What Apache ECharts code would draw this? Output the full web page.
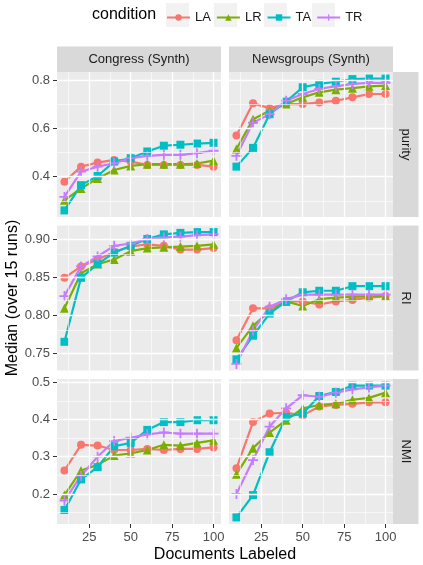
<!DOCTYPE html>
<html>
<head>
<meta charset="utf-8">
<script src="https://cdn.jsdelivr.net/npm/echarts@6/dist/echarts.min.js"></script>
<style>
  html, body { margin: 0; padding: 0; background: #fff; }
  #chart { width: 423px; height: 565px; }
</style>
</head>
<body>
<div id="chart"></div>
<script>
// documents labeled (x)
const docs = [10, 20, 30, 40, 50, 60, 70, 80, 90, 100]
const conditions = ['LA', 'LR', 'TA', 'TR']
const columns = ['Congress (Synth)', 'Newsgroups (Synth)']
const rows = ['purity', 'RI', 'NMI']

// each array: one list per condition, in order LA, LR, TA, TR
const congressPurity = [
  [0.379, 0.442, 0.459, 0.470, 0.463, 0.449, 0.449, 0.449, 0.449, 0.442],
  [0.302, 0.351, 0.393, 0.428, 0.445, 0.452, 0.452, 0.452, 0.455, 0.467],
  [0.260, 0.365, 0.403, 0.463, 0.477, 0.505, 0.529, 0.533, 0.538, 0.541],
  [0.316, 0.421, 0.442, 0.456, 0.477, 0.487, 0.491, 0.491, 0.498, 0.508]
]
const newsPurity = [
  [0.571, 0.705, 0.685, 0.702, 0.702, 0.709, 0.716, 0.730, 0.744, 0.744],
  [0.515, 0.639, 0.674, 0.702, 0.730, 0.751, 0.762, 0.768, 0.776, 0.779],
  [0.442, 0.520, 0.660, 0.712, 0.772, 0.786, 0.795, 0.806, 0.808, 0.808],
  [0.487, 0.625, 0.660, 0.716, 0.744, 0.765, 0.776, 0.786, 0.790, 0.790]
]
const congressRI = [
  [0.849, 0.864, 0.873, 0.883, 0.890, 0.893, 0.891, 0.886, 0.886, 0.888],
  [0.809, 0.855, 0.867, 0.873, 0.884, 0.888, 0.889, 0.890, 0.891, 0.893],
  [0.765, 0.849, 0.867, 0.882, 0.891, 0.900, 0.906, 0.908, 0.909, 0.909],
  [0.825, 0.864, 0.877, 0.891, 0.894, 0.900, 0.902, 0.903, 0.905, 0.906]
]
const newsRI = [
  [0.767, 0.809, 0.809, 0.818, 0.818, 0.814, 0.818, 0.820, 0.823, 0.825],
  [0.757, 0.786, 0.805, 0.818, 0.812, 0.821, 0.823, 0.824, 0.825, 0.825],
  [0.742, 0.773, 0.802, 0.818, 0.830, 0.832, 0.832, 0.838, 0.838, 0.838],
  [0.736, 0.780, 0.811, 0.821, 0.827, 0.827, 0.827, 0.827, 0.827, 0.827]
]
const congressNMI = [
  [0.263, 0.332, 0.330, 0.318, 0.318, 0.321, 0.318, 0.321, 0.321, 0.325],
  [0.197, 0.263, 0.278, 0.303, 0.309, 0.318, 0.332, 0.330, 0.337, 0.344],
  [0.157, 0.239, 0.272, 0.328, 0.337, 0.372, 0.393, 0.393, 0.398, 0.398],
  [0.182, 0.249, 0.300, 0.342, 0.351, 0.360, 0.365, 0.362, 0.362, 0.362]
]
const newsNMI = [
  [0.269, 0.393, 0.416, 0.418, 0.411, 0.435, 0.439, 0.442, 0.446, 0.446],
  [0.253, 0.323, 0.365, 0.398, 0.430, 0.439, 0.442, 0.453, 0.458, 0.472],
  [0.137, 0.197, 0.312, 0.407, 0.416, 0.463, 0.474, 0.491, 0.491, 0.491],
  [0.200, 0.291, 0.381, 0.430, 0.465, 0.461, 0.472, 0.481, 0.486, 0.491]
]

// tick marks / grid lines
const xTicks = [25, 50, 75, 100]
const xMinor = [12.5, 37.5, 62.5, 87.5]
const purityTicks = [0.4, 0.6, 0.8]
const purityMinor = [0.3, 0.5, 0.7]
const riTicks = [0.75, 0.80, 0.85, 0.90]
const riMinor = [0.775, 0.825, 0.875]
const nmiTicks = [0.2, 0.3, 0.4, 0.5]
const nmiMinor = [0.15, 0.25, 0.35, 0.45]

const panelData = [
  [congressPurity, newsPurity],
  [congressRI, newsRI],
  [congressNMI, newsNMI]
]
const yTicks = [purityTicks, riTicks, nmiTicks]
const yMinor = [purityMinor, riMinor, nmiMinor]
const yDecimals = [1, 2, 1]

const colors = ['#F8766D', '#7CAE00', '#00BFC4', '#C77CFF']
const plus = 'path://M-1,-0.18H-0.18V-1H0.18V-0.18H1V0.18H0.18V1H-0.18V0.18H-1Z'
const symbols = ['circle', 'triangle', 'rect', plus]
const symbolSizes = [8, 9, 8, 10]

const FONT = '"Liberation Sans", Arial, sans-serif'
const panelLeft = [57, 229]
const panelW = 164
const panelTop = [72, 225.5, 379]
const panelH = 145

// ggplot style 5% expansion
const expand = (lo, hi) => [lo - (hi - lo) * 0.05, hi + (hi - lo) * 0.05]
const xRange = expand(Math.min(...docs), Math.max(...docs))
const yRanges = panelData.map(row => {
  const all = row.flat(2)
  return expand(Math.min(...all), Math.max(...all))
})

const grids = [], xAxes = [], yAxes = [], series = []
let idx = 0
for (let r = 0; r < 3; r++) {
  for (let c = 0; c < 2; c++) {
    grids.push({
      left: panelLeft[c], top: panelTop[r], width: panelW, height: panelH,
      show: true, backgroundColor: '#EBEBEB', borderWidth: 0
    })
    xAxes.push({
      gridIndex: idx, type: 'value', min: xRange[0], max: xRange[1],
      axisLine: { show: false }, splitLine: { show: false },
      axisTick: { show: r === 2, customValues: xTicks, length: 4, lineStyle: { color: '#333', width: 1 } },
      axisLabel: { show: r === 2, customValues: xTicks, color: '#4D4D4D', fontSize: 13, margin: 7, fontFamily: FONT }
    })
    yAxes.push({
      gridIndex: idx, type: 'value', min: yRanges[r][0], max: yRanges[r][1],
      axisLine: { show: false }, splitLine: { show: false },
      axisTick: { show: c === 0, customValues: yTicks[r], length: 4, lineStyle: { color: '#333', width: 1 } },
      axisLabel: {
        show: c === 0, customValues: yTicks[r], color: '#4D4D4D', fontSize: 13, margin: 7, fontFamily: FONT,
        formatter: (v => val => val.toFixed(v))(yDecimals[r])
      }
    })
    // white grid lines
    const gl = []
    xMinor.forEach(v => gl.push({ xAxis: v, lineStyle: { width: 0.6 } }))
    yMinor[r].forEach(v => gl.push({ yAxis: v, lineStyle: { width: 0.6 } }))
    xTicks.forEach(v => gl.push({ xAxis: v, lineStyle: { width: 1.3 } }))
    yTicks[r].forEach(v => gl.push({ yAxis: v, lineStyle: { width: 1.3 } }))
    series.push({
      type: 'line', xAxisIndex: idx, yAxisIndex: idx, z: 1, silent: true,
      data: [[docs[0], yTicks[r][0]]], showSymbol: false, lineStyle: { opacity: 0 },
      markLine: {
        silent: true, symbol: ['none', 'none'], label: { show: false }, animation: false,
        lineStyle: { color: '#FFFFFF', type: 'solid' },
        emphasis: { disabled: true },
        data: gl
      }
    })
    conditions.forEach((cond, k) => {
      series.push({
        type: 'line', name: cond, xAxisIndex: idx, yAxisIndex: idx, z: 3,
        data: docs.map((d, j) => [d, panelData[r][c][k][j]]),
        symbol: symbols[k], symbolSize: symbolSizes[k], showSymbol: true,
        lineStyle: { width: 2.2, color: colors[k] },
        itemStyle: { color: colors[k] },
        emphasis: { disabled: true }
      })
    })
    idx++
  }
}

const graphics = []
// legend
graphics.push({ type: 'text', left: 92, top: 7, style: { text: 'condition', fontSize: 16, fontFamily: FONT, fill: '#000' } })
;[166, 214, 264, 312].forEach(x => graphics.push({ type: 'rect', shape: { x: x, y: 3, width: 23, height: 24 }, style: { fill: '#F2F2F2' } }))
// strips
columns.forEach((name, c) => {
  graphics.push({ type: 'rect', shape: { x: panelLeft[c], y: 46.5, width: panelW, height: 25.5 }, style: { fill: '#D9D9D9' } })
  graphics.push({ type: 'text', x: panelLeft[c] + panelW / 2, y: 59.5,
    style: { text: name, fontSize: 13, fontFamily: FONT, fill: '#1A1A1A', textAlign: 'center', textVerticalAlign: 'middle' } })
})
rows.forEach((name, r) => {
  graphics.push({ type: 'rect', shape: { x: panelLeft[1] + panelW, y: panelTop[r], width: 25.5, height: panelH }, style: { fill: '#D9D9D9' } })
  graphics.push({ type: 'text', x: panelLeft[1] + panelW + 13, y: panelTop[r] + panelH / 2, rotation: -Math.PI / 2,
    style: { text: name, fontSize: 13, fontFamily: FONT, fill: '#1A1A1A', textAlign: 'center', textVerticalAlign: 'middle' } })
})
// axis titles
graphics.push({ type: 'text', x: 225, y: 555, style: { text: 'Documents Labeled', fontSize: 16, fontFamily: FONT, fill: '#000', textAlign: 'center', textVerticalAlign: 'middle' } })
graphics.push({ type: 'text', x: 13, y: 298, rotation: Math.PI / 2, style: { text: 'Median (over 15 runs)', fontSize: 16, fontFamily: FONT, fill: '#000', textAlign: 'center', textVerticalAlign: 'middle' } })

const chart = echarts.init(document.getElementById('chart'), null, { renderer: 'canvas' })
chart.setOption({
  backgroundColor: '#FFFFFF',
  animation: false,
  textStyle: { fontFamily: FONT },
  legend: {
    data: conditions, left: 166, top: 11, padding: 0, itemWidth: 23, itemHeight: 8, itemGap: 5,
    textStyle: { fontSize: 13, color: '#1A1A1A', fontFamily: FONT },
    selectedMode: false
  },
  graphic: graphics,
  grid: grids,
  xAxis: xAxes,
  yAxis: yAxes,
  series: series
})
</script>
</body>
</html>
